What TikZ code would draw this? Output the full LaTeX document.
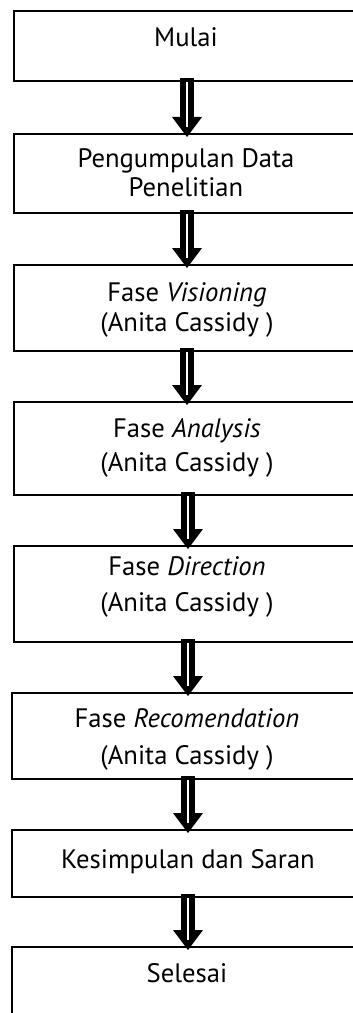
\documentclass[tikz,border=0pt]{standalone}
\usepackage{fontspec}
\setmainfont{PT Sans}
\usetikzlibrary{arrows.meta}

\tikzset{
  stage/.style={draw=black, line width=1.5pt, rectangle, inner sep=0pt,
                minimum width=259.5pt, anchor=north west},
  label/.style={anchor=base, inner sep=0pt, font=\fontsize{20}{23}\selectfont},
  flowarrow/.style={draw=black, line width=10.5pt,
                    -{Triangle[width=22.5pt,length=15pt,line width=0pt]},
                    shorten <=-1.5pt, shorten >=-3pt,
                    postaction={draw=white, line width=1.5pt, -,
                                shorten <=1.5pt, shorten >=4.5pt}}
}

\begin{document}
\begin{tikzpicture}[x=0.75pt, y=-0.75pt]
  \useasboundingbox (0,0) rectangle (353,1013);
  \clip (0,0) rectangle (353,1013);

  % stage boxes (right side runs past the page edge)
  \node[stage, minimum height=52.5pt] (b1) at (13,10)  {};
  \node[stage, minimum height=59.25pt] (b2) at (13,133) {};
  \node[stage, minimum height=64.5pt] (b3) at (13,264) {};
  \node[stage, minimum height=69.75pt] (b4) at (13,401) {};
  \node[stage, minimum height=72pt]   (b5) at (13,545) {};
  \node[stage, minimum height=64.5pt] (b6) at (11,692) {};
  \node[stage, minimum height=50.25pt] (b7) at (11,829) {};
  \node[stage, minimum height=75pt]   (b8) at (11,946) {};

  % texts
  \node[label] (t1)  at (186,46.7)  {Mulai};
  \node[label] (t2a) at (186,167.7) {Pengumpulan Data};
  \node[label] (t2b) at (186,196.7) {Penelitian};
  \node[label] (t3a) at (187,301.3) {Fase \textit{Visioning}};
  \node[label] (t3b) at (187,331.3) {(Anita Cassidy )};
  \node[label] (t4a) at (187,437)   {Fase \textit{Analysis}};
  \node[label] (t4b) at (187,471.7) {(Anita Cassidy )};
  \node[label] (t5a) at (187,575)   {Fase \textit{Direction}};
  \node[label] (t5b) at (187,611.7) {(Anita Cassidy )};
  \node[label] (t6a) at (187,727.3) {Fase \textit{Recomendation}};
  \node[label] (t6b) at (187,764)   {(Anita Cassidy )};
  \node[label] (t7)  at (188,868.3) {Kesimpulan dan Saran};
  \node[label] (t8)  at (187,982.7) {Selesai};

  % connectors
  \coordinate (a1) at (187,80);  \coordinate (e1) at (187,133);
  \coordinate (a2) at (187,212); \coordinate (e2) at (187,264);
  \coordinate (a3) at (187,350); \coordinate (e3) at (187,401);
  \coordinate (a4) at (188,494); \coordinate (e4) at (188,545);
  \coordinate (a5) at (188,641); \coordinate (e5) at (188,692);
  \coordinate (a6) at (188,778); \coordinate (e6) at (188,829);
  \coordinate (a7) at (188,896); \coordinate (e7) at (188,946);
  \foreach \i in {1,...,7} \draw[flowarrow] (a\i) -- (e\i);
\end{tikzpicture}
\end{document}
